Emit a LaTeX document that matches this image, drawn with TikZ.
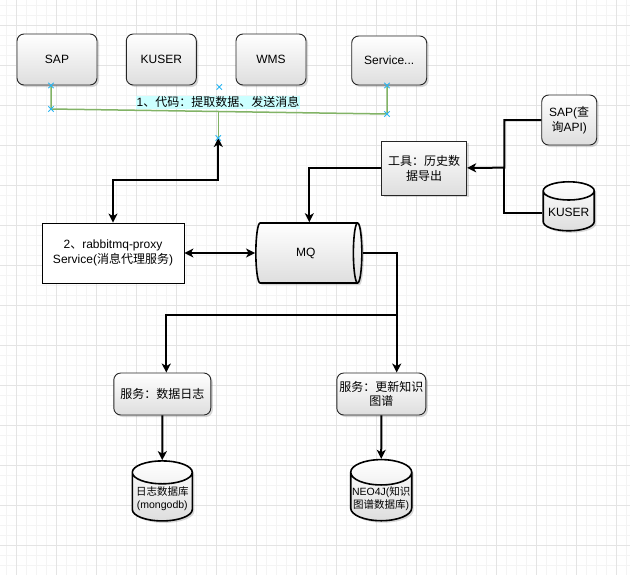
\documentclass[tikz,border=0pt]{standalone}
\usepackage{fontspec}
\setmainfont{Liberation Sans}
\newfontfamily\cjk{Noto Sans CJK SC}
\usetikzlibrary{arrows.meta,shapes.geometric,shapes.misc,shadows}
\newcommand{\zh}[1]{{\cjk #1}}
\definecolor{gridminor}{HTML}{F4F4F4}
\definecolor{gridmajor}{HTML}{E4E4E4}
\definecolor{linkgreen}{HTML}{82B366}
\definecolor{markblue}{HTML}{29B6F2}
\definecolor{labelcyan}{HTML}{CCFFFF}

\begin{document}
\begin{tikzpicture}[x=1pt,y=-1pt,->,>={Stealth[length=9pt,width=9pt,inset=2.5pt]},line width=2pt,
                    font=\fontsize{12}{14}\selectfont]
  \tikzstyle{sysbox}=[rectangle,rounded corners=7pt,draw=black!85,line width=0.9pt,
                      top color=white,bottom color=black!13,align=center,inner sep=2pt,
                      drop shadow={shadow xshift=2pt,shadow yshift=-2pt,opacity=0.3}]
  \tikzstyle{toolbox}=[sysbox,rounded corners=0pt]
  \tikzstyle{proxybox}=[rectangle,draw=black,line width=0.8pt,fill=white,align=center,
                        font=\fontsize{12}{14.3}\selectfont]
  \tikzstyle{dbcyl}=[cylinder,shape border rotate=90,aspect=0.42,draw=black,line width=1.6pt,
                     top color=white,bottom color=black!13,align=center,inner sep=1pt,
                     drop shadow={shadow xshift=2pt,shadow yshift=-2pt,opacity=0.3},
                     font=\fontsize{10.5}{12.5}\selectfont]
  \tikzstyle{mqcyl}=[cylinder,shape border rotate=0,aspect=0.67,draw=black,line width=1.6pt,
                     top color=white,bottom color=black!13,inner sep=1pt,
                     drop shadow={shadow xshift=2pt,shadow yshift=-2pt,opacity=0.3}]
  \tikzstyle{codelabel}=[fill=labelcyan,inner xsep=1pt,inner ysep=0.5pt,
                         text height=9.5pt,text depth=2.5pt]
  \tikzstyle{xmark}=[cross out,draw=markblue,line width=0.9pt,minimum size=4.5pt,inner sep=0pt]

  % background and grid
  \fill[white] (0,0) rectangle (630,574);
  \useasboundingbox (0,0) rectangle (630,574);
  \begin{scope}[shift={(6.7,5.3)}]
    \draw[-,gridminor,line width=0.6pt,step=10pt] (-10,-10) grid (630,580);
  \end{scope}
  \begin{scope}[shift={(16.7,25.3)}]
    \draw[-,gridmajor,line width=0.8pt,step=40pt] (-40,-40) grid (640,600);
  \end{scope}

  % source systems
  \node[sysbox,minimum width=80pt,minimum height=51pt] (sap)   at (57,59.5)    {SAP};
  \node[sysbox,minimum width=70pt,minimum height=51pt] (kuser) at (161.3,59.5) {KUSER};
  \node[sysbox,minimum width=70pt,minimum height=51pt] (wms)   at (271,59.5)   {WMS};
  \node[sysbox,minimum width=75pt,minimum height=49pt] (svc)   at (389.2,60.5) {Service...};
  \node[codelabel] (code) at (218,102.5) {1\zh{、代码：提取数据、发送消息}};

  % middle row
  \node[proxybox,minimum width=142pt,minimum height=60pt] (proxy) at (113,253)
        {2\zh{、}rabbitmq-proxy\\Service(\zh{消息代理服务})};
  % cylinder: height is the axis, width the diameter
  \node[mqcyl,minimum height=106pt,minimum width=60pt] (mq) at (305.8,253) {MQ};
  \node[toolbox,minimum width=85pt,minimum height=54pt,font=\fontsize{12}{15}\selectfont]
        (tool) at (424.2,168) {\zh{工具：历史数}\\\zh{据导出}};
  \node[sysbox,minimum width=55pt,minimum height=50pt,font=\fontsize{12}{15}\selectfont]
        (sapq) at (569.2,120) {SAP(\zh{查}\\\zh{询}API)};
  \node[dbcyl,minimum width=51pt,minimum height=49pt,font=\fontsize{12}{14}\selectfont]
        (kuserdb) at (568.7,212.5) {KUSER};

  % consumers
  \node[sysbox,minimum width=97pt,minimum height=42pt] (logsvc) at (162.3,394) {\zh{服务：数据日志}};
  \node[sysbox,minimum width=89pt,minimum height=42pt] (kgsvc)  at (381.3,394) {\zh{服务：更新知识}\\\zh{图谱}};
  \node[dbcyl,minimum width=60pt,minimum height=60pt] (logdb) at (162.3,498.5) {\zh{日志数据库}\\(mongodb)};
  \node[dbcyl,minimum width=61pt,minimum height=60pt] (neodb) at (381.2,498.5) {NEO4J(\zh{知识}\\\zh{图谱数据库})};

  \coordinate (gl)    at (51,109);
  \coordinate (gr)    at (387,114);
  \coordinate (gm)    at (218.3,111.5);
  \coordinate (gb)    at (218.3,138);
  \coordinate (hop)   at (113,180);
  \coordinate (jn)    at (504.3,167.7);
  \coordinate (split) at (396.7,315);

  % green link to the systems
  \draw[-,linkgreen,line width=1.5pt] (sap.south -| gl) -- (gl) -- (gr) -- (svc.south -| gr);
  \draw[-,linkgreen,line width=1.5pt] (gm) -- (gb);
  \node[xmark] (mk1) at (sap.south -| gl) {};
  \node[xmark] (mk2) at (gl) {};
  \node[xmark] (mk3) at (219.3,87) {};
  \node[xmark] (mk4) at (svc.south -| gr) {};
  \node[xmark] (mk5) at (gr) {};

  \draw[<->] (gb) |- (hop) -- (proxy.north);
  \node[xmark] (mk6) at (gb) {};
  \draw[<->] (proxy) -- (mq);
  \draw (sapq) -| (jn) -- (tool);
  \draw[-] (kuserdb.west) -| (jn);
  \draw (tool) -| ([xshift=3.5pt]mq.north);
  \draw (mq) -| (split) -- (split |- kgsvc.north);
  \draw (split) -| ([xshift=4pt]logsvc.north);
  \draw (logsvc) -- (logdb);
  \draw (kgsvc) -- (neodb);
\end{tikzpicture}
\end{document}
